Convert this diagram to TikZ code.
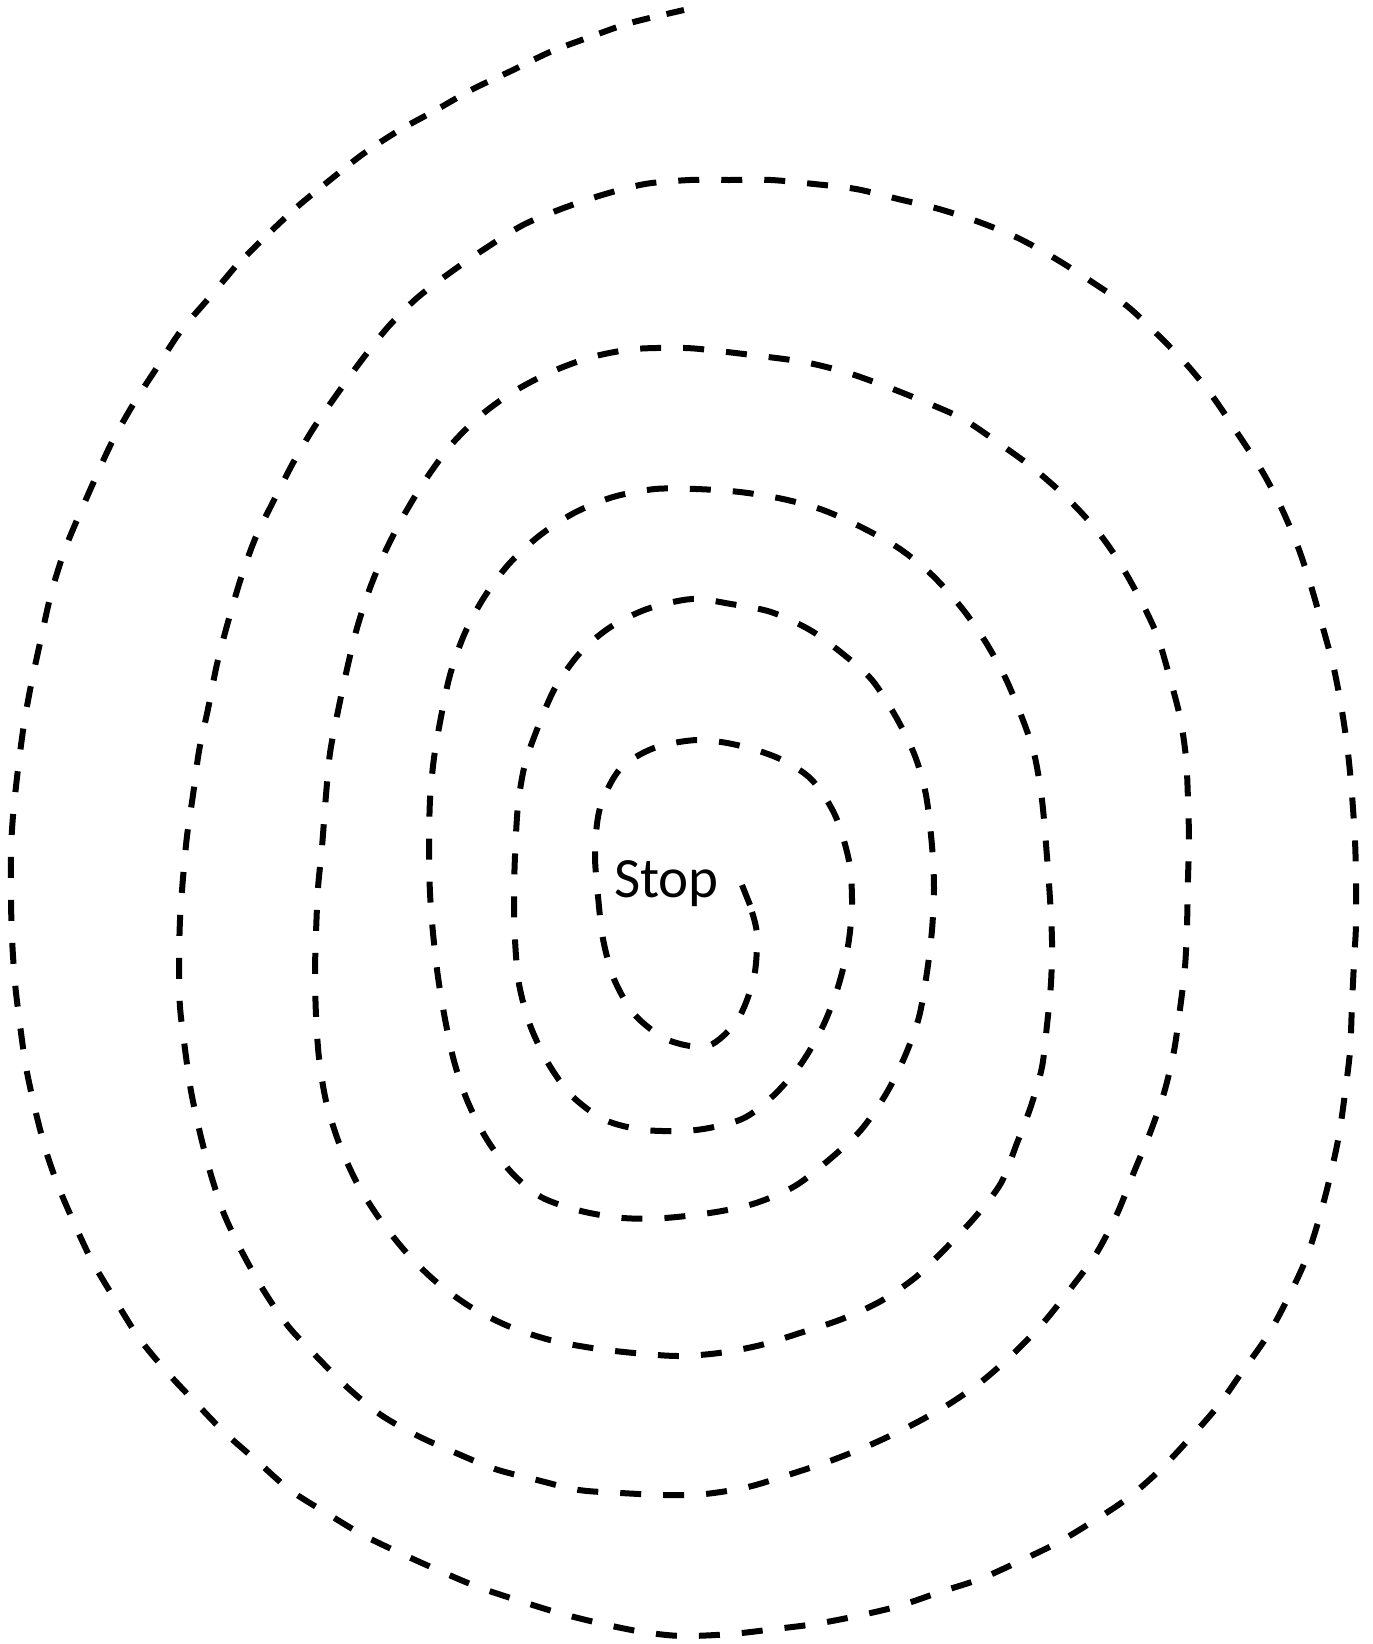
\documentclass[tikz,border=0pt]{standalone}
\usepackage{fontspec}
\newfontfamily\stopfont{Carlito}
\begin{document}
\begin{tikzpicture}[x=1pt,y=-1pt,
  spiralline/.style={line width=6pt,dash pattern=on 21pt off 22pt,black},
  spiraltop/.style={line width=6pt,dash pattern=on 18pt off 17pt,black},
  spiralend/.style={line width=6pt,black},
  labeltext/.style={font=\stopfont\fontsize{57pt}{62pt}\selectfont,inner sep=0pt,anchor=base west}]
\useasboundingbox[fill=white] (0,0) rectangle (1373,1644);
\draw[spiraltop] plot[smooth,tension=0.5] coordinates {
(684,10) (630,23) (590,37) (550,52) (511,71) (473,89) (436,110) (398,131) (363,154) (330,180) (297,207) (264,238) (235,267)};
\draw[spiralline] plot[smooth,tension=0.5] coordinates {
(235,267) (209,298) (180,332) (156,369) (134,403) (112,442) (95,479) (77,520) (64,552) (51,594) (40,643) (31,685) (24,724) (18,769) (13,816) (11,852) (11,899) (12,938) (15,983) (20,1025) (26,1067) (35,1109) (46,1151) (59,1188) (75,1225) (92,1261) (114,1298) (139,1338) (167,1372) (196,1403) (224,1432) (257,1461) (290,1490) (328,1514) (363,1535) (400,1553) (440,1571) (478,1587) (517,1600) (559,1613) (603,1624) (643,1632) (682,1636) (731,1634) (775,1629) (815,1624) (857,1616) (899,1606) (940,1592) (980,1579) (1020,1561) (1057,1543) (1092,1522) (1128,1498) (1161,1469) (1191,1437) (1218,1406) (1242,1372) (1268,1335) (1288,1298) (1306,1259) (1319,1219) (1330,1177) (1339,1135) (1345,1093) (1350,1051) (1352,1004) (1354,962) (1356,925) (1356,880) (1355,841) (1352,795) (1348,753) (1342,711) (1334,669) (1323,628) (1311,586) (1298,547) (1281,507) (1262,471) (1238,434) (1213,397) (1188,366) (1158,335) (1127,306) (1092,282) (1056,259) (1018,238) (979,222) (939,209) (898,199) (856,189) (814,184) (771,180) (729,180) (690,180)
(645,184) (602,195) (561,209) (523,225) (486,248) (451,272) (417,298) (388,327) (361,361) (335,397) (313,429) (293,463) (273,502) (255,539) (241,578) (228,622) (217,664) (208,709) (199,751) (193,795) (187,836) (183,878) (180,920) (179,965) (180,1007) (185,1049) (191,1091) (200,1133) (211,1175) (224,1214) (242,1252) (264,1291) (288,1326) (317,1357) (348,1388) (381,1415) (418,1436) (456,1453) (495,1469) (537,1480) (579,1490) (621,1493) (665,1495) (705,1494) (748,1487) (791,1474) (830,1461) (870,1445) (908,1427) (946,1406) (981,1382) (1014,1353) (1044,1322) (1071,1288) (1096,1254) (1117,1214) (1134,1172) (1150,1133) (1164,1093) (1174,1051) (1180,1009) (1185,967) (1187,925) (1188,878) (1189,841) (1188,800) (1186,758) (1180,717) (1169,675) (1157,635) (1140,599) (1118,560) (1095,528) (1066,497) (1033,468) (1000,444) (963,419) (925,402) (885,386) (845,372) (804,362) (760,356) (718,351) (685,348)
(635,349) (592,357) (551,372) (513,392) (480,416) (451,445) (426,479) (404,515) (385,552) (370,588) (357,628) (347,669) (338,711) (330,753) (326,795) (322,847) (318,888) (316,933) (315,973) (316,1015) (319,1058) (326,1101) (339,1143) (357,1183) (379,1218) (405,1251) (434,1280) (469,1306) (508,1326) (550,1340) (592,1348) (634,1353) (678,1356) (719,1353) (761,1345) (803,1332) (842,1319) (881,1301) (916,1277) (946,1248) (976,1216) (1001,1183) (1017,1143) (1031,1106) (1042,1067) (1047,1025) (1051,983) (1052,941) (1050,899) (1047,857) (1042,800) (1034,753) (1021,715) (1005,677) (985,641) (961,607) (932,575) (900,549) (863,528) (823,510) (783,499) (740,492) (696,489)
(655,489) (613,497) (574,513) (539,536) (508,565) (483,599) (464,635) (450,675) (441,717) (434,758) (430,800) (429,850) (430,893) (433,933) (438,977) (445,1019) (454,1061) (467,1100) (486,1138) (511,1172) (541,1197) (581,1211) (623,1218) (665,1218) (716,1212) (756,1203) (795,1186) (830,1159) (861,1130) (886,1094) (905,1056) (919,1017) (927,972) (932,930) (934,888) (932,846) (926,795) (915,756) (896,717) (872,680) (843,654) (810,630) (771,612) (731,604) (692,599)
(647,609) (609,628) (579,654) (555,688) (538,727) (525,764) (518,805) (515,856) (514,896) (515,940) (519,984) (530,1025) (548,1063) (572,1096) (605,1120) (645,1130) (696,1130) (742,1119) (773,1096) (801,1064) (823,1026) (838,987) (848,946) (852,904) (849,861) (835,815) (811,779) (778,758) (737,745) (697,740)
(654,748) (620,769) (600,808) (595,853) (598,896) (603,939) (614,979) (635,1015) (668,1040) (708,1046) (738,1019) (754,977) (757,935) (752,912)};
\coordinate (tickstart) at (742,885);
\coordinate (tickend) at (750,905);
\draw[spiralend] (tickstart) -- (tickend);
\node[labeltext] (stop) at (614,897) {Stop};
\end{tikzpicture}
\end{document}
